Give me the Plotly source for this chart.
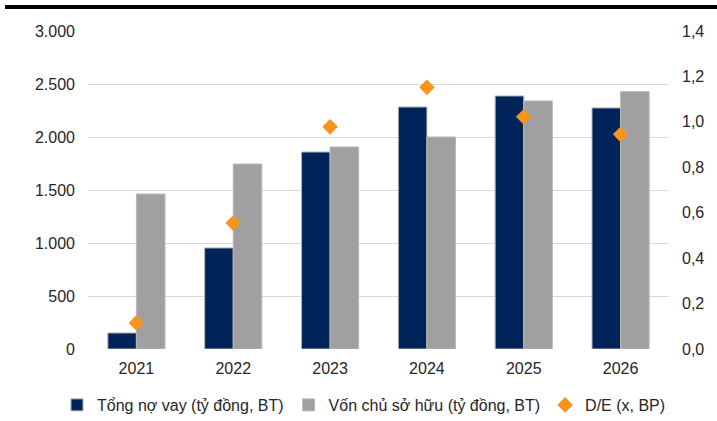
import plotly.graph_objects as go

years = ["2021", "2022", "2023", "2024", "2025", "2026"]
debt = [151, 953, 1858, 2283, 2387, 2274]
equity = [1462, 1745, 1906, 2000, 2340, 2428]
de_ratio = [0.115, 0.555, 0.978, 1.152, 1.022, 0.945]

left_ticks = [0, 500, 1000, 1500, 2000, 2500, 3000]
right_ticks = [0.0, 0.2, 0.4, 0.6, 0.8, 1.0, 1.2, 1.4]

font_family = "Liberation Sans, Arial, sans-serif"
text_color = "#262626"
fs = 16

fig = go.Figure()
fig.add_trace(go.Bar(
    x=years, y=debt, name="Tổng nợ vay (tỷ đồng, BT)",
    marker=dict(color="#002459", line=dict(color="#b0b0b0", width=1)),
))
fig.add_trace(go.Bar(
    x=years, y=equity, name="Vốn chủ sở hữu (tỷ đồng, BT)",
    marker=dict(color="#a0a0a0", line=dict(color="#b8b8b8", width=1)),
))
fig.add_trace(go.Scatter(
    x=years, y=de_ratio, name="D/E (x, BP)", yaxis="y2", mode="markers",
    marker=dict(symbol="diamond", size=12, color="#f7941d"),
))

fig.update_layout(
    width=717, height=421,
    margin=dict(l=88, r=48, t=31, b=72, autoexpand=False),
    paper_bgcolor="white", plot_bgcolor="white",
    separators=",.",
    barmode="group", bargap=0.41, bargroupgap=0,
    font=dict(family=font_family, size=fs, color=text_color),
    xaxis=dict(
        type="category", showgrid=False, showline=False, zeroline=False,
        ticks="", ticklabelstandoff=8,
        tickfont=dict(size=fs, color=text_color),
    ),
    yaxis=dict(
        range=[0, 3000], tickvals=left_ticks, tickformat=",d",
        showgrid=True, gridcolor="#d9d9d9", gridwidth=1,
        zeroline=False, showline=False, ticks="", ticklabelstandoff=12,
        tickfont=dict(size=fs, color=text_color),
    ),
    yaxis2=dict(
        range=[0, 1.4], tickvals=right_ticks, tickformat=".1f",
        overlaying="y", side="right", showgrid=False, zeroline=False,
        showline=False, ticks="", ticklabelstandoff=12,
        tickfont=dict(size=fs, color=text_color),
    ),
    legend=dict(
        orientation="h", x=(57 - 88) / 581, xanchor="left",
        y=-(405 - 349) / 318, yanchor="middle",
        font=dict(size=fs, color=text_color), itemwidth=30,
        bgcolor="rgba(0,0,0,0)",
    ),
    shapes=[dict(
        type="rect", xref="paper", yref="paper",
        x0=(5 - 88) / 581, x1=(717 - 88) / 581,
        y0=(349 - 9) / 318, y1=(349 - 5) / 318,
        fillcolor="black", line=dict(width=0),
    )],
)

fig.write_html("out.html")
